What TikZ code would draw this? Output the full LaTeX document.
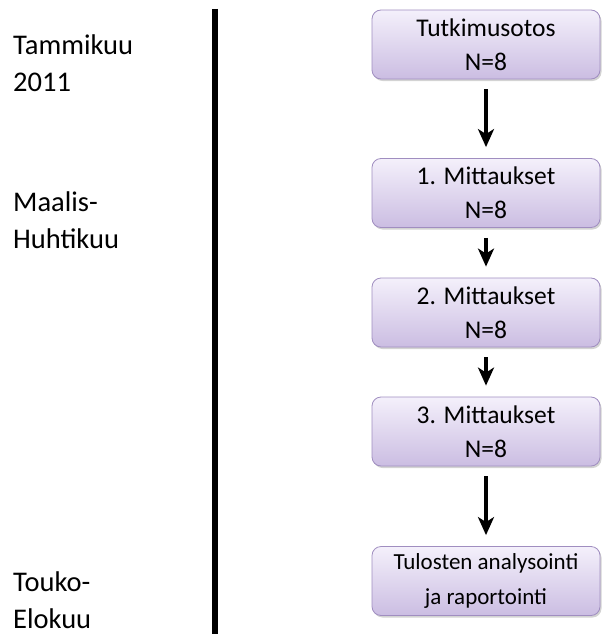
\documentclass[tikz,border=0pt]{standalone}
\usepackage{xcolor}
\usepackage{fontspec}
\setmainfont{Carlito}
\usepackage{tikz}
\usetikzlibrary{shapes, arrows.meta, positioning, shadows}

\definecolor{boxtop}{RGB}{244,240,251}
\definecolor{boxbot}{RGB}{203,189,226}
\definecolor{boxline}{RGB}{160,142,192}

\begin{document}
\begin{tikzpicture}
  [
    x=1pt, y=-1pt,
    Phase/.style={rectangle, rounded corners=9pt, draw=boxline, thick, top color=boxtop, bottom color=boxbot, minimum width=228pt, minimum height=69pt, align=center, font=\fontsize{25.5}{34}\selectfont, drop shadow={opacity=0.35, shadow xshift=1.5pt, shadow yshift=-2pt}},
    Period/.style={anchor=base west, align=left, inner sep=0pt, font=\fontsize{28.5}{37}\selectfont},
    Step/.style={draw, line width=4pt, -{Stealth[length=18pt, width=16pt, inset=5pt]}, shorten <=10pt, shorten >=11pt}
  ]
  \useasboundingbox (0,0) rectangle (602,634);

  % Time line
  \node[Period] (t1) at(13, 92) {Tammikuu\\2011};
  \node[Period] (t2) at(13, 248) {Maalis-\\Huhtikuu};
  \node[Period] (t3) at(13, 628) {Touko-\\Elokuu};
  \draw [line width=5.5pt] (215, 9) -- (215, 634);

  % Nodes
  \node[Phase] (v1) at(486, 44.5) {Tutkimusotos\\N=8};
  \node[Phase] (v2) at(486, 193) {1. Mittaukset\\N=8};
  \node[Phase] (v3) at(486, 312.5) {2. Mittaukset\\N=8};
  \node[Phase] (v4) at(486, 431.5) {3. Mittaukset\\N=8};
  \node[Phase, font=\fontsize{23}{35}\selectfont] (v5) at(486, 581) {Tulosten analysointi\\ja raportointi};

  % Lines
  \path [Step] (v1) -- (v2);
  \path [Step] (v2) -- (v3);
  \path [Step] (v3) -- (v4);
  \path [Step] (v4) -- (v5);

\end{tikzpicture}
\end{document}
